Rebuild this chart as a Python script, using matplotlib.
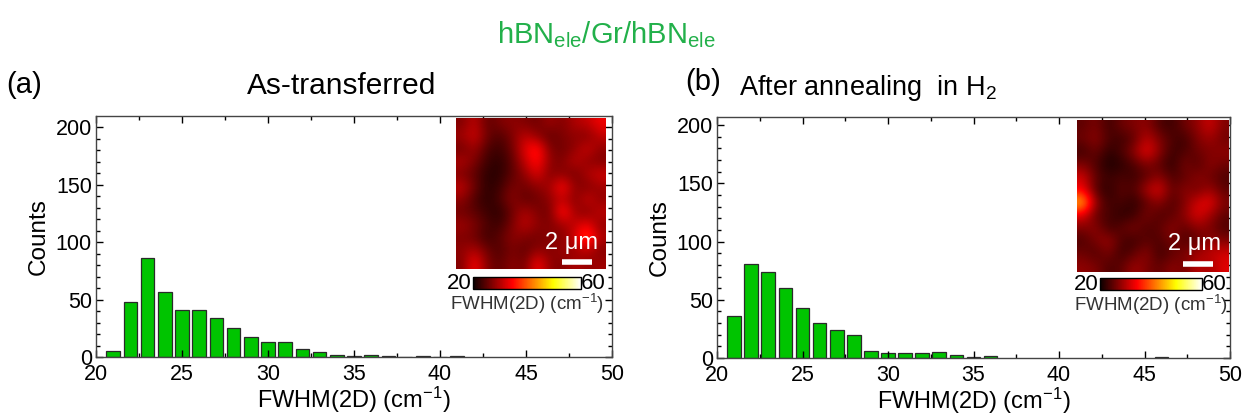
import numpy as np
import matplotlib
matplotlib.use("Agg")
from matplotlib import pyplot as plt

plt.rcParams['font.family'] = ['Liberation Sans', 'DejaVu Sans']
plt.rcParams['mathtext.fontset'] = 'custom'
plt.rcParams['mathtext.rm'] = 'Liberation Sans'
plt.rcParams['mathtext.it'] = 'Liberation Sans:italic'

# FWHM(2D) histogram bins (cm^-1) and counts
bins_a = [21, 22, 23, 24, 25, 26, 27, 28, 29, 30, 31, 32, 33, 34, 35, 36, 37, 38, 39, 40, 41]
counts_a = [5, 48, 86, 57, 41, 41, 34, 25, 17, 13, 13, 7, 4, 2, 1, 2, 1, 0, 1, 0, 1]

bins_b = [21, 22, 23, 24, 25, 26, 27, 28, 29, 30, 31, 32, 33, 34, 35, 36, 46]
counts_b = [36, 81, 74, 60, 43, 30, 24, 20, 6, 4, 4, 4, 5, 3, 1, 2, 1]

# coarse FWHM(2D) Raman maps (cm^-1), 10 x 10 um
map_a = [
    [27, 31, 25, 27, 28, 27, 26, 29, 27, 30, 31, 34],
    [29, 32, 26, 24, 27, 31, 28, 25, 27, 28, 27, 31],
    [26, 29, 24, 23, 26, 33, 37, 27, 26, 28, 32, 28],
    [30, 27, 23, 22, 25, 31, 36, 28, 27, 31, 28, 27],
    [27, 25, 22, 22, 25, 28, 33, 27, 28, 26, 30, 32],
    [31, 26, 22, 23, 27, 26, 28, 29, 36, 28, 27, 29],
    [28, 24, 22, 24, 28, 25, 26, 28, 31, 27, 32, 28],
    [26, 25, 23, 22, 26, 30, 27, 26, 37, 29, 27, 31],
    [29, 27, 24, 23, 27, 31, 28, 27, 29, 31, 34, 28],
    [27, 26, 23, 25, 28, 27, 26, 28, 27, 32, 40, 30],
    [28, 30, 26, 24, 27, 25, 28, 27, 29, 28, 31, 27],
    [27, 35, 27, 25, 28, 26, 35, 28, 27, 30, 28, 29],
]
map_b = [
    [25, 27, 23, 26, 27, 28, 24, 23, 26, 28, 32, 27],
    [26, 28, 24, 23, 25, 31, 27, 24, 23, 27, 29, 26],
    [23, 26, 22, 24, 28, 34, 28, 23, 24, 26, 27, 28],
    [27, 24, 21, 22, 24, 27, 25, 22, 27, 24, 28, 26],
    [32, 25, 23, 24, 23, 25, 28, 24, 25, 28, 26, 24],
    [34, 24, 22, 25, 24, 30, 33, 25, 28, 26, 29, 25],
    [46, 28, 23, 24, 22, 25, 28, 24, 27, 32, 34, 27],
    [33, 25, 24, 22, 23, 27, 24, 25, 28, 33, 29, 25],
    [27, 28, 23, 25, 27, 24, 25, 28, 25, 28, 27, 24],
    [24, 27, 29, 24, 23, 25, 24, 27, 24, 25, 28, 27],
    [26, 24, 27, 23, 25, 28, 23, 25, 27, 29, 31, 32],
    [28, 27, 24, 25, 29, 27, 25, 28, 26, 31, 29, 33],
]

W, H = 1245, 415
fig = plt.figure(figsize=(W / 100, H / 100), dpi=100)


def px_axes(x0, y0, x1, y1):
    # axes from pixel box (top-left origin)
    return fig.add_axes([x0 / W, 1 - y1 / H, (x1 - x0) / W, (y1 - y0) / H])


def hist_panel(box, bins, counts, ytop):
    ax = px_axes(*box)
    ax.bar(bins, counts, width=0.8, color='#00c400', edgecolor='#2a2a2a', linewidth=0.9)
    ax.set_xlim(20, 50)
    ax.set_ylim(0, ytop)
    ax.set_xticks(range(20, 51, 5))
    ax.set_xticks(np.arange(22.5, 50, 5), minor=True)
    ax.set_yticks(range(0, 201, 50))
    ax.set_yticks(range(0, 201, 10), minor=True)
    ax.tick_params(which='both', direction='in', top=True, right=True, labelsize=15.5)
    ax.tick_params(axis='x', pad=5)
    ax.tick_params(axis='y', pad=3)
    ax.tick_params(which='major', length=5, width=1)
    ax.tick_params(which='minor', length=3, width=1)
    for s in ax.spines.values():
        s.set_linewidth(1.0)
        s.set_color('#444444')
    ax.set_xlabel('FWHM(2D) (cm$^{-1}$)', fontsize=17, labelpad=0)
    ax.set_ylabel('Counts', fontsize=17.5, labelpad=4)
    return ax


def map_inset(img_box, cb_box, data, bar, txt):
    ax = px_axes(*img_box)
    im = ax.imshow(data, cmap='hot', vmin=20, vmax=60, interpolation='bicubic',
                   extent=[0, 10, 0, 10], aspect='auto')
    ax.set_axis_off()
    ax.plot(bar[0], bar[1], color='white', linewidth=4, solid_capstyle='butt')
    ax.text(txt[0], txt[1], '2 μm', color='white', fontsize=17, ha='center', va='center')
    cax = px_axes(*cb_box)
    cb = fig.colorbar(im, cax=cax, orientation='horizontal')
    cb.set_ticks([])
    cb.outline.set_linewidth(1.0)
    cax.text(-0.01, 0.45, '20', transform=cax.transAxes, ha='right', va='center', fontsize=16)
    cax.text(1.0, 0.45, '60', transform=cax.transAxes, ha='left', va='center', fontsize=16)
    cax.text(0.5, -0.25, 'FWHM(2D) (cm$^{-1}$)', transform=cax.transAxes,
             ha='center', va='top', fontsize=13.5, color='#333333')


hist_panel((96, 116, 612, 357), bins_a, counts_a, 210)
hist_panel((717, 117, 1230, 358), bins_b, counts_b, 207)

map_inset((456, 118, 606, 269), (473, 277, 581, 289), map_a,
          ([7.07, 9.07], [0.46, 0.46]), (7.73, 1.72))
map_inset((1077, 120, 1228, 272), (1100, 278, 1202, 290), map_b,
          ([7.02, 9.01], [0.53, 0.53]), (7.8, 1.87))

fig.text(606 / W, 1 - 35 / H, r'hBN$_{\mathrm{ele}}$/Gr/hBN$_{\mathrm{ele}}$',
         color='#22b04a', fontsize=21, ha='center', va='center')
fig.text(24 / W, 1 - 85 / H, '(a)', fontsize=21, ha='center', va='center')
fig.text(342 / W, 1 - 86 / H, 'As-transferred', fontsize=21.5, ha='center', va='center')
fig.text(703 / W, 1 - 82 / H, '(b)', fontsize=21, ha='center', va='center')
fig.text(868 / W, 1 - 88 / H, 'After annealing  in H$_2$', fontsize=19.5, ha='center', va='center')

fig.savefig('out.png', dpi=100)
